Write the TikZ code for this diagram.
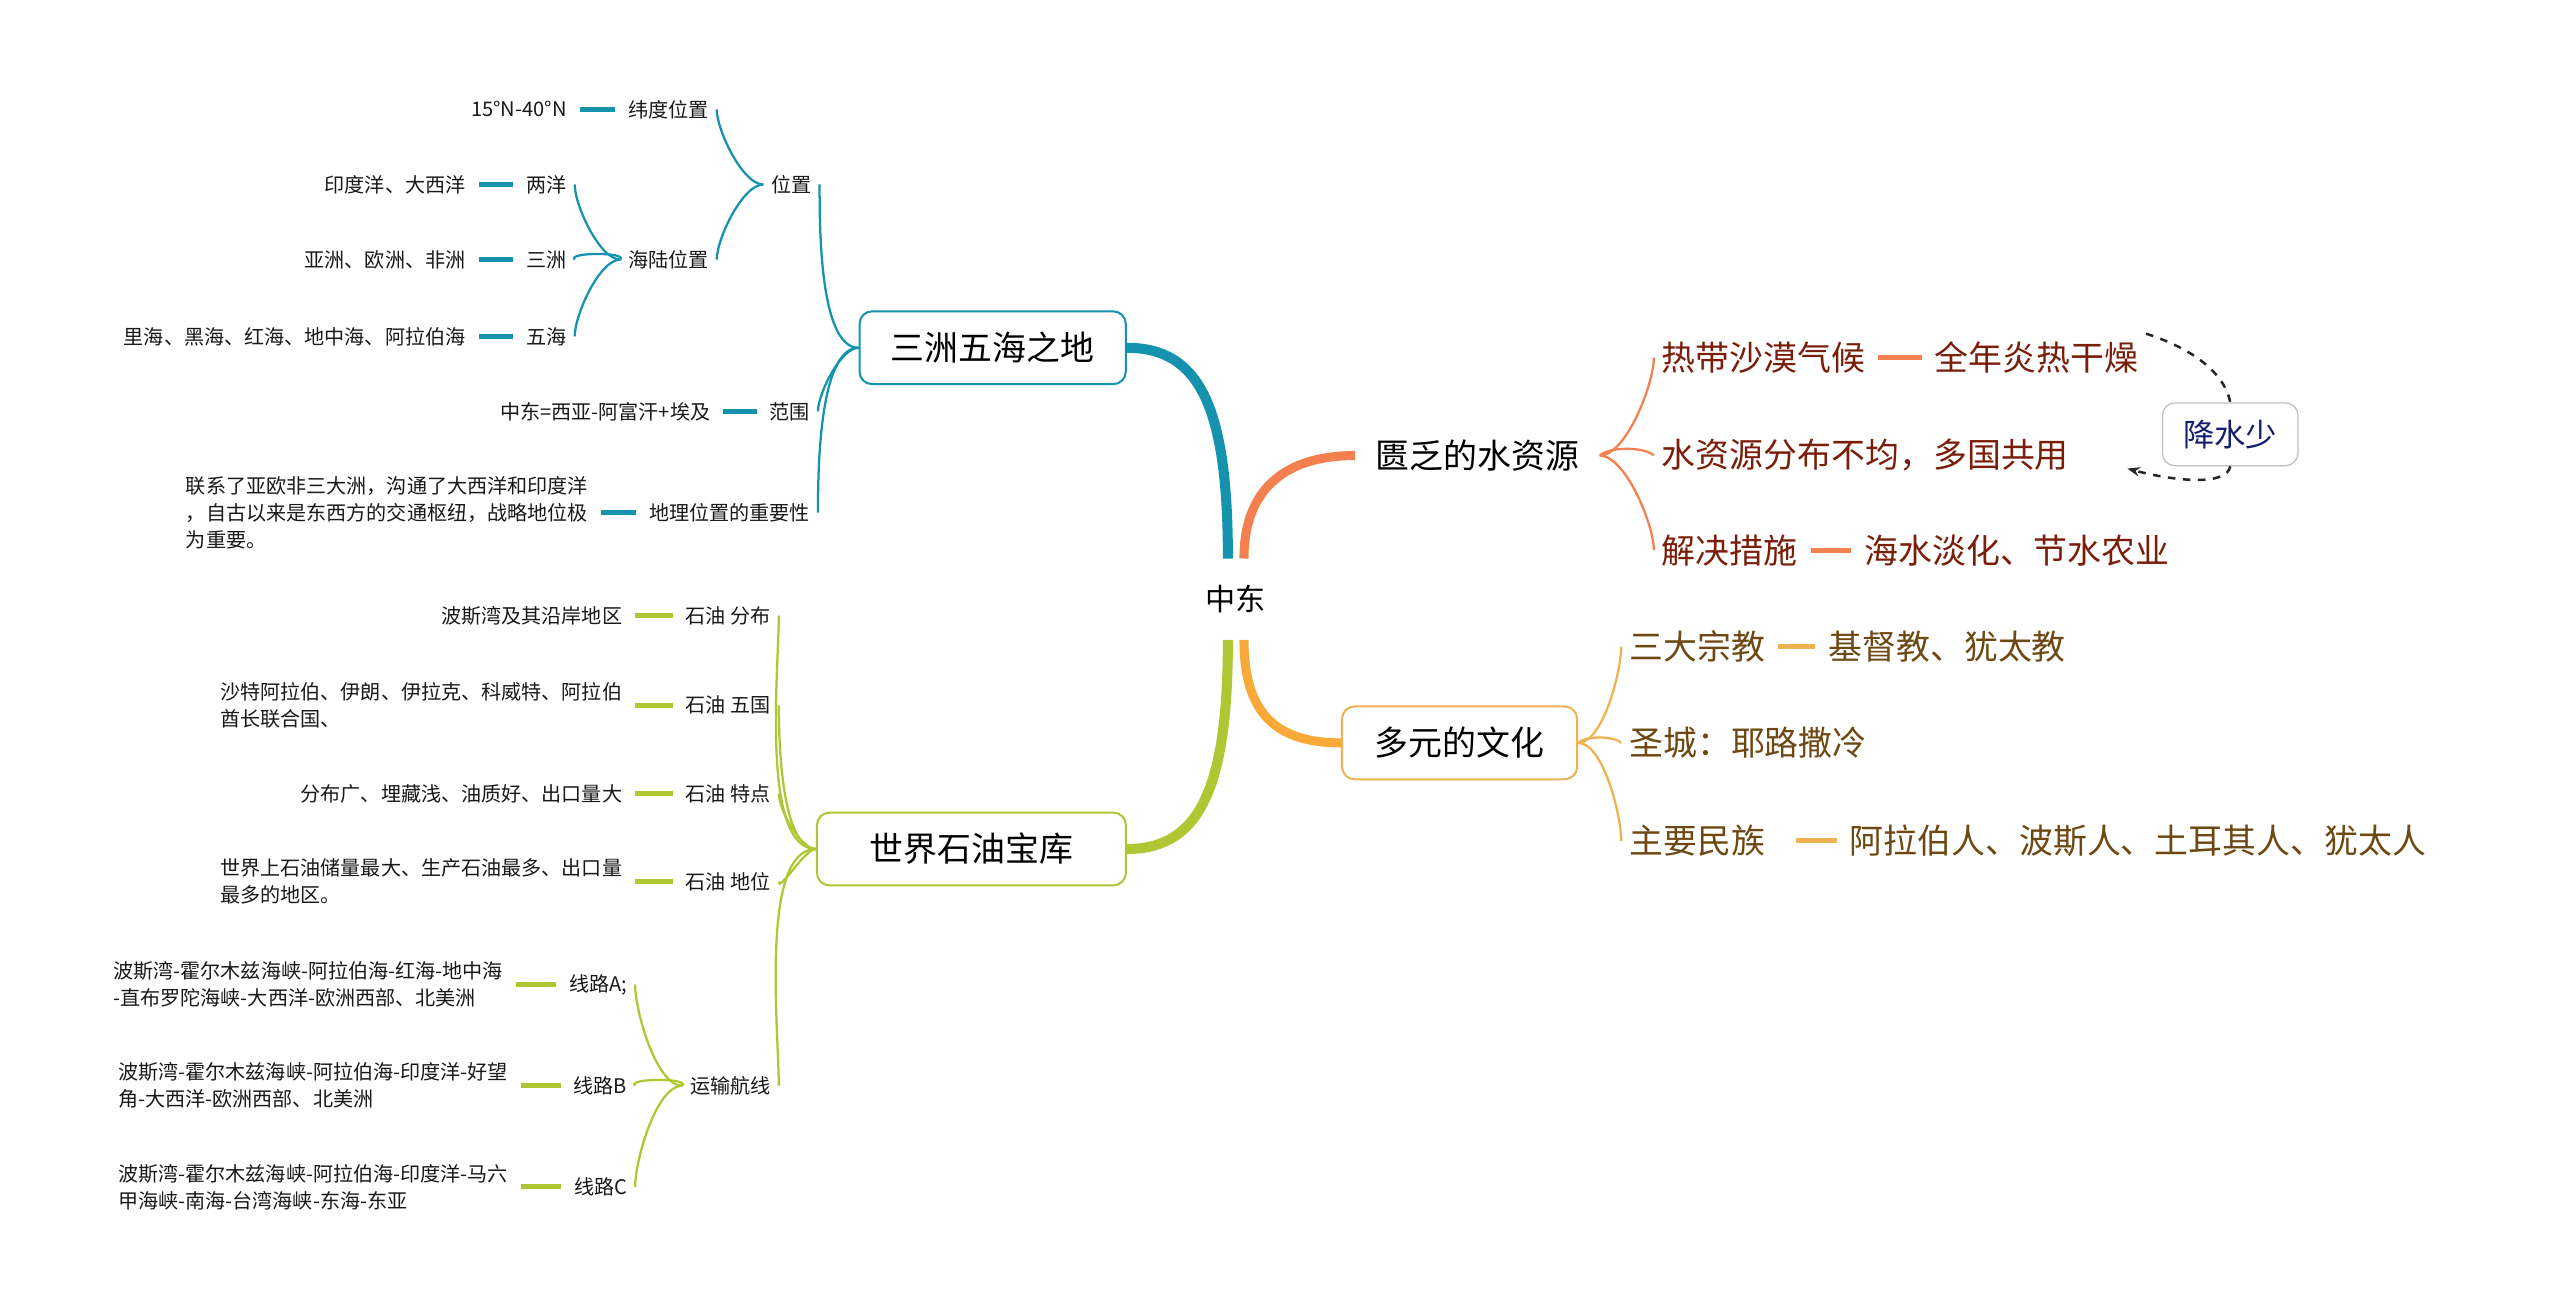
\documentclass[tikz,border=0pt]{standalone}
\usepackage{fontspec}
\setmainfont{Noto Sans CJK SC}
\usetikzlibrary{arrows.meta,positioning}

\begin{document}
\begin{tikzpicture}[x=0.65pt,y=0.65pt]
\definecolor{tealBranch}{RGB}{21,146,174}
			\definecolor{orangeBranch}{RGB}{244,128,79}
			\definecolor{greenBranch}{RGB}{176,198,50}
			\definecolor{yellowBranch}{RGB}{248,169,55}
			\definecolor{waterText}{RGB}{122,30,10}
			\definecolor{cultureText}{RGB}{110,72,18}
			\definecolor{cultureLine}{RGB}{238,178,82}
			\definecolor{noteText}{RGB}{20,30,110}
			\tikzstyle{leaf}=[font=\fontsize{8}{10.7}\selectfont, inner sep=3pt, text=black!90, align=left]
			\tikzstyle{bigleaf}=[font=\fontsize{13.5}{16}\selectfont, inner sep=3pt, anchor=west]
			\tikzstyle{topic}=[draw, rounded corners=5pt, line width=0.8pt, minimum height=29pt, font=\fontsize{13.5}{16}\selectfont, text=black, fill=white]
			\tikzstyle{root}=[font=\fontsize{12}{14}\selectfont, minimum height=32pt, minimum width=26pt, inner sep=0pt]
			\tikzstyle{shortline}=[shorten >=2pt, shorten <=2pt]

			\fill[white] (0,0) rectangle (1568,-802);
			\useasboundingbox (0,0) rectangle (1568,-802);

			\node [root] (zd) at (757,-367) {中东};

			% 三洲五海之地
			\node [topic, draw=tealBranch, minimum width=106pt] (tpbox) at (608,-213) {三洲五海之地};
			\node [leaf, anchor=east] (pos) at (502,-113) {位置};
			\node [leaf, anchor=east] (fw) at (501,-252) {范围};
			\node [leaf, anchor=east] (zy) at (501,-314) {地理位置的重要性};
			\node [leaf, anchor=east] (wd) at (439,-67) {纬度位置};
			\node [leaf, anchor=east] (hl) at (439,-159) {海陆位置};
			\node [leaf, anchor=east] (lat) at (352,-67) {15°N-40°N};
			\node [leaf, anchor=east] (ly) at (352,-113) {两洋};
			\node [leaf, anchor=east] (sz) at (352,-159) {三洲};
			\node [leaf, anchor=east] (wh) at (352,-206) {五海};
			\node [leaf, anchor=east] (lyt) at (290,-113) {印度洋、大西洋};
			\node [leaf, anchor=east] (szt) at (290,-159) {亚洲、欧洲、非洲};
			\node [leaf, anchor=east] (wht) at (290,-206) {里海、黑海、红海、地中海、阿拉伯海};
			\node [leaf, anchor=east] (fwt) at (440,-252) {中东=西亚-阿富汗+埃及};
			\node [leaf, anchor=east] (zyt) at (365,-314) {联系了亚欧非三大洲，沟通了大西洋和印度洋\\，自古以来是东西方的交通枢纽，战略地位极\\为重要。};

			% 世界石油宝库
			\node [topic, draw=greenBranch, minimum width=123pt] (oil) at (595,-520) {世界石油宝库};
			\node [leaf, anchor=east] (fb) at (477,-377) {石油 分布};
			\node [leaf, anchor=east] (wg) at (477,-432) {石油 五国};
			\node [leaf, anchor=east] (td) at (477,-486) {石油 特点};
			\node [leaf, anchor=east] (dw) at (477,-540) {石油 地位};
			\node [leaf, anchor=east] (ys) at (477,-665) {运输航线};
			\node [leaf, anchor=east] (fbt) at (386,-377) {波斯湾及其沿岸地区};
			\node [leaf, anchor=east] (wgt) at (386,-432) {沙特阿拉伯、伊朗、伊拉克、科威特、阿拉伯\\酋长联合国、};
			\node [leaf, anchor=east] (tdt) at (386,-486) {分布广、埋藏浅、油质好、出口量大};
			\node [leaf, anchor=east] (dwt) at (386,-540) {世界上石油储量最大、生产石油最多、出口量\\最多的地区。};
			\node [leaf, anchor=east] (xa) at (389,-603) {线路A;};
			\node [leaf, anchor=east] (xb) at (389,-665) {线路B};
			\node [leaf, anchor=east] (xc) at (389,-727) {线路C};
			\node [leaf, anchor=east] (xat) at (313,-603) {波斯湾-霍尔木兹海峡-阿拉伯海-红海-地中海\\-直布罗陀海峡-大西洋-欧洲西部、北美洲};
			\node [leaf, anchor=east] (xbt) at (316,-665) {波斯湾-霍尔木兹海峡-阿拉伯海-印度洋-好望\\角-大西洋-欧洲西部、北美洲};
			\node [leaf, anchor=east] (xct) at (316,-727) {波斯湾-霍尔木兹海峡-阿拉伯海-印度洋-马六\\甲海峡-南海-台湾海峡-东海-东亚};

			% 匮乏的水资源
			\node [bigleaf, inner xsep=8pt, text=black] (ws) at (830,-279) {匮乏的水资源};
			\node [bigleaf, text=waterText] (rd) at (1013,-219) {热带沙漠气候};
			\node [bigleaf, text=waterText] (gz) at (1180,-219) {全年炎热干燥};
			\node [bigleaf, text=waterText] (bj) at (1013,-279) {水资源分布不均，多国共用};
			\node [bigleaf, text=waterText] (js) at (1013,-337) {解决措施};
			\node [bigleaf, text=waterText] (dh) at (1137,-337) {海水淡化、节水农业};
			\node [draw=black!25, line width=0.5pt, rounded corners=5pt, minimum width=54pt, minimum height=25pt, text=noteText, font=\fontsize{12.5}{15}\selectfont] (rain) at (1366,-266) {降水少};
			\coordinate (rainend) at (1303,-287);

			% 多元的文化
			\node [topic, draw=cultureLine, minimum width=93.6pt] (wh2) at (894,-455) {多元的文化};
			\node [bigleaf, text=cultureText] (sd) at (993,-396) {三大宗教};
			\node [bigleaf, text=cultureText] (jd) at (1115,-396) {基督教、犹太教};
			\node [bigleaf, text=cultureText] (sc) at (993,-455) {圣城：耶路撒冷};
			\node [bigleaf, text=cultureText] (mz) at (993,-515) {主要民族};
			\node [bigleaf, text=cultureText] (mzt) at (1128,-515) {阿拉伯人、波斯人、土耳其人、犹太人};

			% main branches
			\draw[tealBranch, line width=4pt] ([xshift=-3.2pt]zd.north) .. controls +(0,92) and +(45,0) .. (tpbox.east);
			\draw[orangeBranch, line width=3.6pt] ([xshift=3.2pt]zd.north) .. controls +(0,45) and +(-40,0) .. (ws.west);
			\draw[greenBranch, line width=4pt] ([xshift=-3.2pt]zd.south) .. controls +(0,-90) and +(45,0) .. (oil.east);
			\draw[yellowBranch, line width=3.6pt] ([xshift=3.2pt]zd.south) .. controls +(0,-45) and +(-40,0) .. (wh2.west);

			\path[-, line width=0.9pt, color=tealBranch, looseness=0.6]
			(tpbox.west) edge[out=180, in=-90] (pos.east)
			(tpbox.west) edge[out=180, in=90] (fw.east)
			(tpbox.west) edge[out=180, in=90] (zy.east)
			(pos.west) edge[out=180, in=-90] (wd.east)
			(pos.west) edge[out=180, in=90] (hl.east)
			(hl.west) edge[out=180, in=-90] (ly.east)
			(hl.west) edge (sz.east)
			(hl.west) edge[out=180, in=90] (wh.east);
			\path[-, line width=2pt, color=tealBranch, shortline]
			(lat) edge (wd)
			(lyt) edge (ly)
			(szt) edge (sz)
			(wht) edge (wh)
			(fwt) edge (fw)
			(zyt) edge (zy);

			\path[-, line width=0.9pt, color=greenBranch, looseness=0.6]
			(oil.west) edge[out=180, in=-90] (fb.east)
			(oil.west) edge[out=180, in=-90] (wg.east)
			(oil.west) edge[out=180, in=-90] (td.east)
			(oil.west) edge[out=180, in=-90] (dw.east)
			(oil.west) edge[out=180, in=90] (ys.east)
			(ys.west) edge[out=180, in=-90] (xa.east)
			(ys.west) edge (xb.east)
			(ys.west) edge[out=180, in=90] (xc.east);
			\path[-, line width=2pt, color=greenBranch, shortline]
			(fbt) edge (fb)
			(wgt) edge (wg)
			(tdt) edge (td)
			(dwt) edge (dw)
			(xat) edge (xa)
			(xbt) edge (xb)
			(xct) edge (xc);

			\path[-, line width=0.9pt, color=orangeBranch, looseness=0.6]
			(ws.east) edge[out=0, in=-90] (rd.west)
			(ws.east) edge (bj.west)
			(ws.east) edge[out=0, in=90] (js.west);
			\path[-, line width=2pt, color=orangeBranch, shortline]
			(rd) edge (gz)
			(js) edge (dh);

			\path[-, line width=0.9pt, color=cultureLine, looseness=0.6]
			(wh2.east) edge[out=0, in=-90] (sd.west)
			(wh2.east) edge (sc.west)
			(wh2.east) edge[out=0, in=90] (mz.west);
			\path[-, line width=2pt, color=cultureLine, shortline]
			(sd) edge (jd)
			(mz) edge[shorten <=9pt] (mzt);

			\draw[dashed, line width=1pt, black!85] (gz.north east) .. controls +(25,-8) and +(-4,20) .. (rain.north);
			\draw[dashed, line width=1pt, black!85, -{Stealth[length=5pt]}] (rain.south) .. controls +(-2,-12) and +(30,-8) .. (rainend);
		\end{tikzpicture}
\end{document}
